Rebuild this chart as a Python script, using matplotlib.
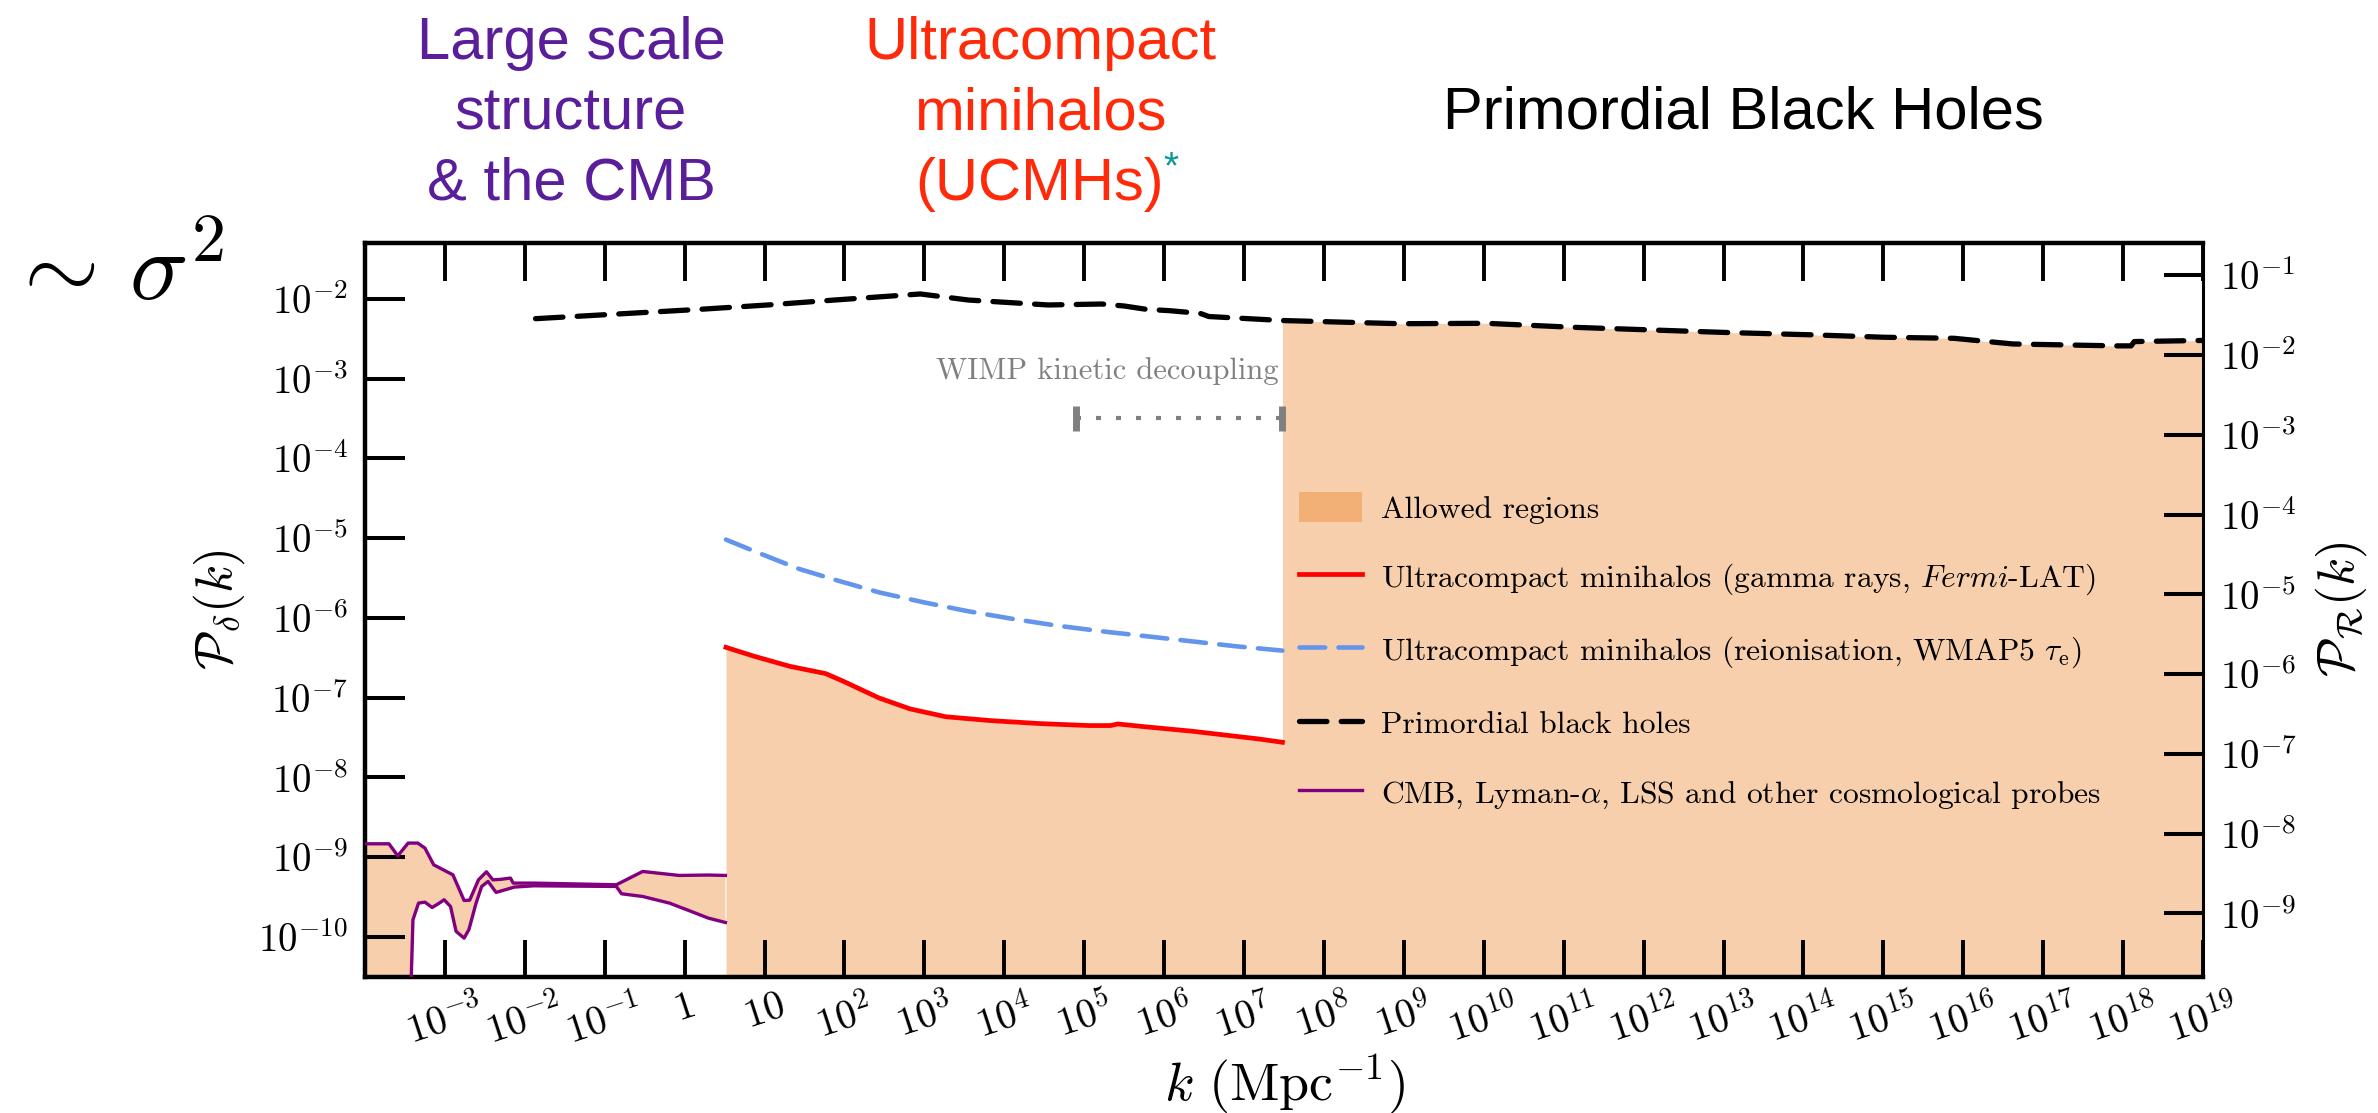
import numpy as np
import matplotlib
matplotlib.use('Agg')
import matplotlib.pyplot as plt
from matplotlib.ticker import FixedLocator, FixedFormatter, NullLocator

plt.rcParams['mathtext.fontset'] = 'cm'
plt.rcParams['font.family'] = 'serif'
plt.rcParams['font.serif'] = ['cmr10', 'DejaVu Serif']
plt.rcParams['axes.unicode_minus'] = False
plt.rcParams['axes.formatter.use_mathtext'] = True

# ---------------- data (log10 values) ----------------
cmb_upper_logk = [-4.0, -3.70, -3.59, -3.46, -3.34, -3.25, -3.14, -2.90, -2.76, -2.69,
                  -2.58, -2.48, -2.40, -2.31, -2.18, -2.145, -1.89, -0.855, -0.525,
                  -0.07, 0.296, 0.51]
cmb_upper_logP = [-8.833, -8.833, -8.984, -8.824, -8.824, -8.887, -9.097, -9.222, -9.544,
                  -9.54, -9.285, -9.184, -9.285, -9.28, -9.263, -9.326, -9.326, -9.347,
                  -9.18, -9.23, -9.225, -9.23]
cmb_lower_logk = [-4.0, -3.45, -3.40, -3.33, -3.25, -3.16, -3.07, -3.01, -2.93, -2.86,
                  -2.76, -2.70, -2.61, -2.54, -2.46, -2.36, -2.13, -1.89, -0.855, -0.79,
                  -0.525, -0.19, 0.05, 0.296, 0.51]
cmb_lower_logP = [-11.5, -11.5, -9.786, -9.577, -9.565, -9.632, -9.577, -9.535, -9.619,
                  -9.932, -10.016, -9.91, -9.577, -9.368, -9.305, -9.443, -9.376, -9.36,
                  -9.368, -9.46, -9.494, -9.577, -9.669, -9.765, -9.82]

ucmh_gamma_logk = [0.517, 0.87, 1.316, 1.763, 1.986, 2.43, 2.82, 3.27, 3.83, 4.44, 5.055,
                   5.33, 5.42, 5.78, 6.34, 7.175, 7.48]
ucmh_gamma_logP = [-6.369, -6.481, -6.607, -6.698, -6.795, -7.003, -7.141, -7.24, -7.288,
                   -7.325, -7.35, -7.35, -7.33, -7.367, -7.42, -7.517, -7.56]

ucmh_reion_logk = [0.517, 0.925, 1.43, 1.875, 2.43, 2.99, 3.55, 4.11, 4.66, 5.22, 5.78,
                   6.34, 6.9, 7.48]
ucmh_reion_logP = [-5.018, -5.185, -5.385, -5.52, -5.679, -5.804, -5.917, -6.013, -6.097,
                   -6.168, -6.23, -6.293, -6.356, -6.41]

pbh_logk = [-1.866, 0.2, 1.04, 1.875, 2.95, 3.55, 4.55, 5.22, 5.5, 5.78, 6.06, 6.45, 6.56,
            7.48, 8.95, 10.03, 11.12, 13.03, 14.12, 15.01, 15.885, 16.16, 16.62, 17.91,
            18.1, 18.14, 19.0]
pbh_logP = [-2.247, -2.129, -2.075, -2.013, -1.937, -2.013, -2.075, -2.063, -2.088, -2.13,
            -2.146, -2.18, -2.22, -2.27, -2.31, -2.305, -2.355, -2.42, -2.45, -2.48,
            -2.493, -2.52, -2.564, -2.588, -2.588, -2.534, -2.52]

wimp_logk = [4.9, 7.48]
wimp_logP = -3.49

x_tick_exps = list(range(-4, 20))
x_tick_labels = ['', r'$10^{-3}$', r'$10^{-2}$', r'$10^{-1}$', r'$1$', r'$10$'] + \
                [r'$10^{%d}$' % n for n in range(2, 20)]
yl_tick_exps = list(range(-10, -1))
yr_tick_exps = list(range(-9, 0))
PR_over_Pdelta = 81.0 / 16.0

legend_labels = ['Allowed regions',
                 r'Ultracompact minihalos (gamma rays, $\mathit{Fermi}$-LAT)',
                 r'Ultracompact minihalos (reionisation, WMAP5 $\tau_\mathrm{e}$)',
                 'Primordial black holes',
                 r'CMB, Lyman-$\alpha$, LSS and other cosmological probes']

# ---------------- figure ----------------
W, H = 2378, 1113
fig = plt.figure(figsize=(W / 100, H / 100), dpi=100)
L, R, T, B = 365, 2203, 242.7, 976.7
ax = fig.add_axes([L / W, 1 - B / H, (R - L) / W, (B - T) / H])
ax.set_xscale('log')
ax.set_yscale('log')
ylo, yhi = 10 ** -10.5, 10 ** -1.294
ax.set_xlim(1e-4, 1e19)
ax.set_ylim(ylo, yhi)

fill_c = '#E96C02'
fill_a = 0.32
floor = 1e-13

p = lambda a: 10 ** np.asarray(a, dtype=float)

# CMB band
ku, Pu = p(cmb_upper_logk), p(cmb_upper_logP)
kl, Pl = p(cmb_lower_logk), p(cmb_lower_logP)
ax.fill(np.concatenate([ku, kl[::-1]]), np.concatenate([Pu, Pl[::-1]]),
        color=fill_c, alpha=fill_a, lw=0, zorder=1)
lp, = ax.plot(ku, Pu, color='purple', lw=2.4, zorder=3)
ax.plot(kl, Pl, color='purple', lw=2.4, zorder=3)

# UCMH allowed region
kg, Pg = p(ucmh_gamma_logk), p(ucmh_gamma_logP)
fh = ax.fill_between(kg, floor, Pg, color=fill_c, alpha=fill_a, lw=0, zorder=1)
# PBH allowed region
kb, Pb = p(pbh_logk), p(pbh_logP)
mask = np.asarray(pbh_logk) >= ucmh_gamma_logk[-1]
ax.fill_between(kb[mask], floor, Pb[mask], color=fill_c, alpha=fill_a, lw=0, zorder=1)

lr, = ax.plot(kg, Pg, color='red', lw=3.4, zorder=4)
kr, Pr = p(ucmh_reion_logk), p(ucmh_reion_logP)
lb, = ax.plot(kr, Pr, color='cornflowerblue', lw=3.3, dashes=(5.6, 2.9),
              dash_capstyle='round', zorder=4)
lk, = ax.plot(kb, Pb, color='black', lw=3.8, dashes=(5.2, 2.7),
              dash_capstyle='round', zorder=5)

# WIMP kinetic decoupling
wk = p(wimp_logk)
wy = np.full(2, 10 ** wimp_logP)
ax.plot(wk, wy, color='gray', lw=3, linestyle=(0, (1.2, 3.6)), zorder=4)
ax.plot(wk, wy, color='gray', ls='none', marker='|', ms=18, mew=5, zorder=4)
ax.text(10 ** 7.43, 10 ** -2.9, 'WIMP kinetic decoupling', color='gray',
        fontsize=22, ha='right', va='center')

# ticks
ax.xaxis.set_major_locator(FixedLocator([10.0 ** e for e in x_tick_exps]))
ax.xaxis.set_major_formatter(FixedFormatter(x_tick_labels))
ax.xaxis.set_minor_locator(NullLocator())
ax.yaxis.set_major_locator(FixedLocator([10.0 ** e for e in yl_tick_exps]))
ax.yaxis.set_major_formatter(FixedFormatter([r'$10^{%d}$' % e for e in yl_tick_exps]))
ax.yaxis.set_minor_locator(NullLocator())
ax.tick_params(axis='x', which='major', direction='in', top=True, bottom=True,
               length=27, width=2.8, labelsize=29, pad=9, labelrotation=18)
ax.tick_params(axis='y', which='major', direction='in', left=True, right=False,
               length=29, width=2.9, labelsize=28, pad=12)
for s in ['left', 'top', 'bottom']:
    ax.spines[s].set_linewidth(3.2)
ax.spines['right'].set_visible(False)

ax.set_xlabel(r'$k\ (\mathrm{Mpc}^{-1})$', fontsize=39, labelpad=0)
ax.set_ylabel(r'$\mathcal{P}_\delta(k)$', fontsize=37, labelpad=8)

ax2 = ax.twinx()
ax2.set_yscale('log')
ax2.set_ylim(ylo * PR_over_Pdelta, yhi * PR_over_Pdelta)
ax2.yaxis.set_major_locator(FixedLocator([10.0 ** e for e in yr_tick_exps]))
ax2.yaxis.set_major_formatter(FixedFormatter([r'$10^{%d}$' % e for e in yr_tick_exps]))
ax2.yaxis.set_minor_locator(NullLocator())
ax2.tick_params(axis='y', which='major', direction='in', length=28, width=2.9,
                labelsize=28, pad=12)
for s in ['left', 'top', 'bottom']:
    ax2.spines[s].set_visible(False)
ax2.spines['right'].set_linewidth(2.2)
ax2.set_ylabel(r'$\mathcal{P}_\mathcal{R}(k)$', fontsize=37, labelpad=12)

leg = ax.legend([fh, lr, lb, lk, lp], legend_labels, loc='upper left',
                bbox_to_anchor=(1299 / W, 1 - 492 / H), bbox_transform=fig.transFigure,
                frameon=False, fontsize=22.7, handlelength=2.0, handleheight=1.1,
                handletextpad=0.6, labelspacing=1.18, borderpad=0, borderaxespad=0)
leg.set_zorder(10)

# headings above the plot
sans = ['Liberation Sans', 'DejaVu Sans']
fig.text(571 / W, 1 - 114 / H, 'Large scale\nstructure\n& the CMB', color='#5A1E9B',
         fontsize=43, family=sans, ha='center', va='center', multialignment='center',
         linespacing=1.36)
fig.text(1040 / W, 1 - 114 / H, 'Ultracompact\nminihalos\n(UCMHs)', color='#FF2A0A',
         fontsize=43, family=sans, ha='center', va='center', multialignment='center',
         linespacing=1.36)
fig.text(1171 / W, 1 - 168 / H, '*', color='#0A9A9A', fontsize=28, family=sans,
         ha='center', va='center')
fig.text(1743 / W, 1 - 113 / H, 'Primordial Black Holes', color='black',
         fontsize=43, family=sans, ha='center', va='center')
fig.text(6 / W, 1 - 300 / H, r'$\sim\,\sigma^2$', fontsize=70, ha='left', va='baseline')

fig.savefig('out.png', dpi=100)
